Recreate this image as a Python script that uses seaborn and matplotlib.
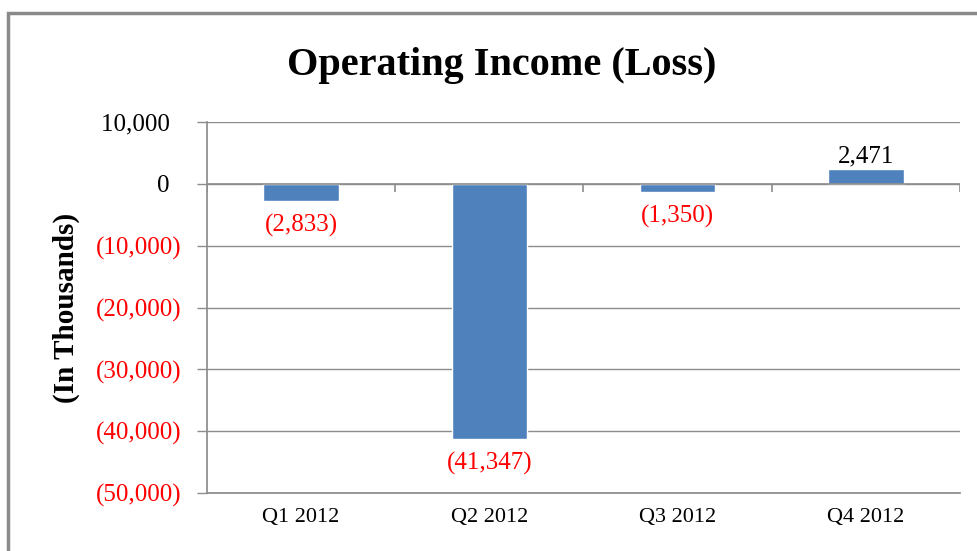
import matplotlib
matplotlib.use("Agg")
import matplotlib.pyplot as plt
import matplotlib.ticker as mticker
from matplotlib.patches import Rectangle
import seaborn as sns

# data
quarters = ["Q1 2012", "Q2 2012", "Q3 2012", "Q4 2012"]
income = [-2833, -41347, -1350, 2471]
yticks = [10000, 0, -10000, -20000, -30000, -40000, -50000]

bar_color = "#4F81BD"
red = "#FF0000"
grid_gray = "#8c8c8c"


def fmt(v, pad=False):
    # accounting style: negatives in parentheses
    if v < 0:
        return "({:,.0f})".format(-v)
    s = "{:,.0f}".format(v)
    return s + "\u2002" if pad else s


sns.set_theme(style="white")
plt.rcParams["font.family"] = ["Liberation Serif", "DejaVu Serif"]
plt.rcParams["text.color"] = "black"
plt.rcParams["axes.labelcolor"] = "black"
plt.rcParams["xtick.color"] = "black"
plt.rcParams["ytick.color"] = "black"

fig = plt.figure(figsize=(9.78, 5.51), dpi=100)
ax = fig.add_axes([207 / 978, 1 - 493 / 551, (960 - 207) / 978, (493 - 122) / 551])

sns.barplot(x=quarters, y=income, color=bar_color, width=0.4, saturation=1, ax=ax)

ax.set_ylim(-50000, 10000)
ax.set_xlim(-0.5, 3.5)
ax.set_yticks(yticks)
ax.yaxis.set_major_formatter(mticker.FuncFormatter(lambda v, p: fmt(v, pad=True)))
ax.grid(axis="y", color=grid_gray, linewidth=1)
ax.set_axisbelow(True)

for side in ["top", "right"]:
    ax.spines[side].set_visible(False)
ax.spines["left"].set_color(grid_gray)
ax.spines["bottom"].set_color(grid_gray)

ax.tick_params(axis="y", length=7, width=1, color=grid_gray, labelcolor="black",
               pad=11, labelsize=18, left=True)
ax.tick_params(axis="x", length=0, pad=11, labelsize=16, labelcolor="black")
for lbl, v in zip(ax.get_yticklabels(), yticks):
    lbl.set_color(red if v < 0 else "black")

# zero line with category boundary ticks (Excel style)
ax.axhline(0, color=grid_gray, linewidth=1.2, zorder=1)
ax.vlines([-0.5, 0.5, 1.5, 2.5, 3.5], -1300, 0, color=grid_gray, linewidth=1.2, zorder=1)

ax.set_xlabel("")
ax.set_ylabel("(In Thousands)", fontsize=21, fontweight="bold", color="black")
ax.yaxis.set_label_coords(-0.1687, 0.5)

# value labels: losses in red below the bar, gains in black above
neg_labels = [fmt(v) if v < 0 else "" for v in income]
pos_labels = [fmt(v) if v >= 0 else "" for v in income]
ax.bar_label(ax.containers[0], labels=neg_labels, padding=9, fontsize=18, color=red)
ax.bar_label(ax.containers[0], labels=pos_labels, padding=1, fontsize=18, color="black")

fig.text(502 / 978, 1 - 65 / 551, "Operating Income (Loss)", ha="center", va="center",
         fontsize=29, fontweight="bold", color="black")

# chart border, running off the right and bottom edges
fig.patches.append(Rectangle((8 / 978, -0.1), 1.2, 1 - 13 / 551 + 0.1,
                             transform=fig.transFigure, fill=False,
                             edgecolor="#8a8a8a", linewidth=2.5))

fig.savefig("out.png", dpi=100)
